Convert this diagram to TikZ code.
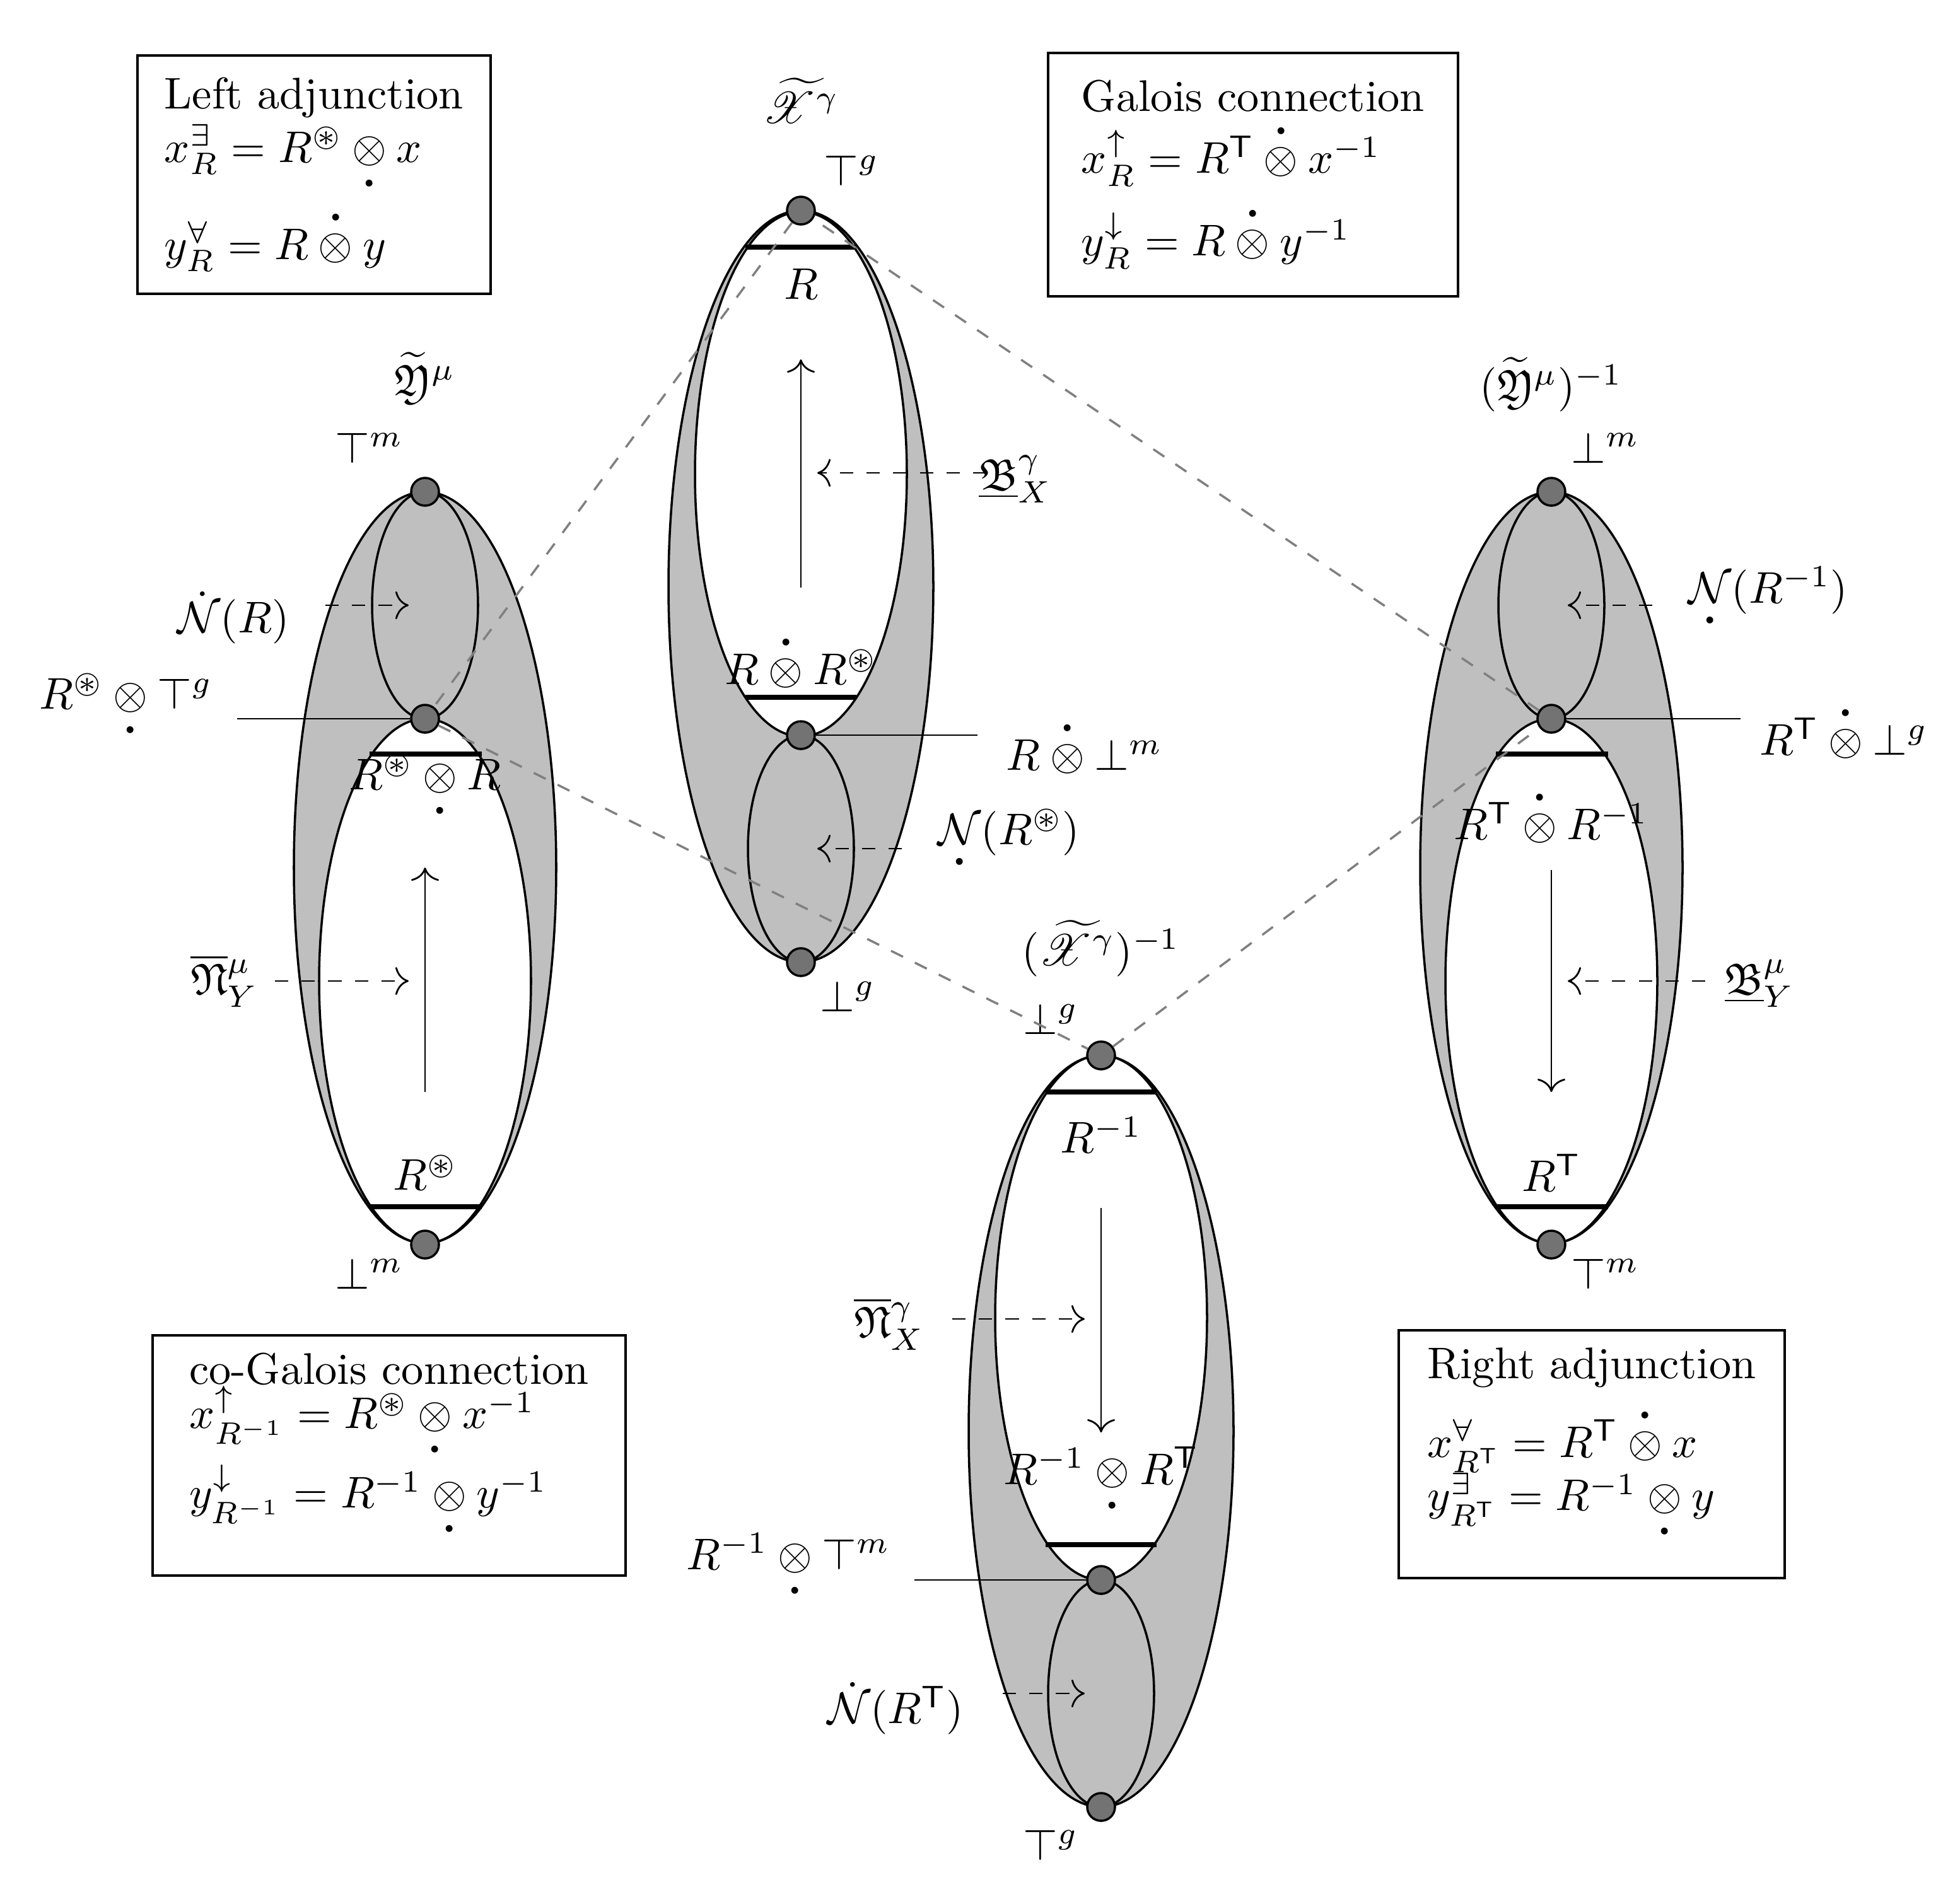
\documentclass[tikz,border=0pt]{standalone}
\usepackage{amsmath,amssymb,mathrsfs}
\usetikzlibrary{arrows.meta}
\newcommand{\otd}{\mathbin{\underset{\raisebox{3pt}[0pt][0pt]{$\boldsymbol\cdot$}}{\otimes}}}
\newcommand{\otu}{\mathbin{\overset{\raisebox{-2.5pt}{$\boldsymbol\cdot$}}{\otimes}}}
\newcommand{\Nd}{\underset{\raisebox{3pt}[0pt][0pt]{$\boldsymbol\cdot$}}{\mathcal N}}
\newcommand{\Nu}{\dot{\mathcal N}}
\newcommand{\Tt}{{\mathsf T}}
\begin{document}
\begin{tikzpicture}[x=0.01cm,y=-0.01cm,
  every node/.style={font=\fontsize{10}{12}\selectfont},
  grayfill/.style={fill=black!25,draw=black,line width=0.5pt},
  whitefill/.style={fill=white,draw=black,line width=0.5pt},
  pt/.style={circle,fill=black!55,draw=black,line width=0.5pt,inner sep=0pt,minimum size=0.22cm},
  bar/.style={line width=1.1pt},
  darr/.style={dashed,-{To[length=3pt]}},
  sarr/.style={-{To[length=3pt]}},
  diag/.style={dashed,black!50,line width=0.5pt},
  lbox/.style={draw,line width=0.5pt,align=left,inner sep=4pt}]
\useasboundingbox (0,0) rectangle (1554,1496);
% ---------- Left: Y^mu
\draw[grayfill] (337,688) ellipse [x radius=104,y radius=298];
\draw[whitefill] (337,778) ellipse [x radius=84,y radius=208];
\draw[grayfill] (337,480) ellipse [x radius=42,y radius=90];
\draw[bar] (293,598) -- (382,598);
\draw[bar] (293,957) -- (382,957);
\node[pt] (L1) at (337,390) {};
\node[pt] (L2) at (337,570) {};
\node[pt] (L3) at (337,987) {};
\node (Lt) at (337,300) {$\widetilde{\mathfrak Y}^\mu$};
\node (Ltop) at (293,355) {$\top^m$};
\node (Lbot) at (293,1010) {$\bot^m$};
\node (Lmid) at (100,568) {$R^{\circledast}\otd\top^g$};
\coordinate (Lmidc) at (188,570);
\draw (Lmidc) -- (L2);
\node (LN) at (185,490) {$\Nu(R)$};
\coordinate (LNa) at (258,480); \coordinate (LNb) at (324,480);
\draw[darr] (LNa) -- (LNb);
\node (LB) at (178,778) {$\overline{\mathfrak N}{}^\mu_Y$};
\coordinate (LBa) at (218,778); \coordinate (LBb) at (324,778);
\draw[darr] (LBa) -- (LBb);
\node (Lr1) at (337,632) {$R^{\circledast}\otd R$};
\node (Lr2) at (337,930) {$R^{\circledast}$};
\coordinate (La) at (337,866); \coordinate (Lb) at (337,688);
\draw[sarr] (La) -- (Lb);
% ---------- Center: X^gamma
\draw[grayfill] (635,465) ellipse [x radius=105,y radius=298];
\draw[whitefill] (635,376) ellipse [x radius=84,y radius=208];
\draw[grayfill] (635,673) ellipse [x radius=42,y radius=90];
\draw[bar] (591,196) -- (679,196);
\draw[bar] (591,553) -- (679,553);
\node[pt] (C1) at (635,167) {};
\node[pt] (C2) at (635,583) {};
\node[pt] (C3) at (635,763) {};
\node (Ct) at (635,80) {$\widetilde{\mathscr X}^\gamma$};
\node (Ctop) at (675,135) {$\top^g$};
\node (Cbot) at (672,790) {$\bot^g$};
\node (Cr1) at (635,225) {$R$};
\node (Cr2) at (635,522) {$R\otu R^{\circledast}$};
\coordinate (Ca) at (635,466); \coordinate (Cb) at (635,285);
\draw[sarr] (Ca) -- (Cb);
\node (CB) at (805,380) {$\underline{\mathfrak B}{}^\gamma_X$};
\coordinate (CBa) at (782,375); \coordinate (CBb) at (648,375);
\draw[darr] (CBa) -- (CBb);
\node (Cmid) at (860,590) {$R\otu\bot^m$};
\coordinate (Cmidc) at (775,583);
\draw (C2) -- (Cmidc);
\node (CN) at (800,674) {$\Nd(R^{\circledast})$};
\coordinate (CNa) at (715,673); \coordinate (CNb) at (648,673);
\draw[darr] (CNa) -- (CNb);
% ---------- Right: (Y^mu)^-1
\draw[grayfill] (1230,688) ellipse [x radius=104,y radius=298];
\draw[whitefill] (1230,778) ellipse [x radius=84,y radius=208];
\draw[grayfill] (1230,480) ellipse [x radius=42,y radius=90];
\draw[bar] (1186,598) -- (1275,598);
\draw[bar] (1186,957) -- (1275,957);
\node[pt] (R1) at (1230,390) {};
\node[pt] (R2) at (1230,570) {};
\node[pt] (R3) at (1230,987) {};
\node (Rt) at (1230,305) {$(\widetilde{\mathfrak Y}^\mu)^{-1}$};
\node (Rtop) at (1273,355) {$\bot^m$};
\node (Rbot) at (1273,1010) {$\top^m$};
\node (RN) at (1402,482) {$\Nd(R^{-1})$};
\coordinate (RNa) at (1310,480); \coordinate (RNb) at (1243,480);
\draw[darr] (RNa) -- (RNb);
\node (Rmid) at (1462,578) {$R^\Tt\otu\bot^g$};
\coordinate (Rmidc) at (1380,570);
\draw (R2) -- (Rmidc);
\node (Rr1) at (1230,645) {$R^\Tt\otu R^{-1}$};
\node (Rr2) at (1230,930) {$R^\Tt$};
\coordinate (Ra) at (1230,690); \coordinate (Rb) at (1230,866);
\draw[sarr] (Ra) -- (Rb);
\node (RB) at (1395,780) {$\underline{\mathfrak B}{}^\mu_Y$};
\coordinate (RBa) at (1352,778); \coordinate (RBb) at (1243,778);
\draw[darr] (RBa) -- (RBb);
% ---------- Bottom: (X^gamma)^-1
\draw[grayfill] (873,1135) ellipse [x radius=105,y radius=298];
\draw[whitefill] (873,1045) ellipse [x radius=84,y radius=208];
\draw[grayfill] (873,1343) ellipse [x radius=42,y radius=90];
\draw[bar] (829,866) -- (917,866);
\draw[bar] (829,1225) -- (917,1225);
\node[pt] (B1) at (873,837) {};
\node[pt] (B2) at (873,1253) {};
\node[pt] (B3) at (873,1433) {};
\node (Bt) at (873,752) {$(\widetilde{\mathscr X}^\gamma)^{-1}$};
\node (Btop) at (833,808) {$\bot^g$};
\node (Bbot) at (833,1463) {$\top^g$};
\node (Br1) at (873,900) {$R^{-1}$};
\node (Br2) at (873,1182) {$R^{-1}\otd R^\Tt$};
\coordinate (Ba) at (873,958); \coordinate (Bb) at (873,1136);
\draw[sarr] (Ba) -- (Bb);
\node (BB) at (705,1050) {$\overline{\mathfrak N}{}^\gamma_X$};
\coordinate (BBa) at (755,1046); \coordinate (BBb) at (860,1046);
\draw[darr] (BBa) -- (BBb);
\node (Bmid) at (625,1250) {$R^{-1}\otd\top^m$};
\coordinate (Bmidc) at (725,1253);
\draw (Bmidc) -- (B2);
\node (BN) at (710,1355) {$\Nu(R^\Tt)$};
\coordinate (BNa) at (795,1343); \coordinate (BNb) at (860,1343);
\draw[darr] (BNa) -- (BNb);
% ---------- diamond
\draw[diag] (C1) -- (L2) -- (B1) -- (R2) -- (C1);
% ---------- boxes
\node[lbox,anchor=north west,minimum width=2.8cm,minimum height=1.89cm] (box1) at (108,43)
 {Left adjunction\\[0pt] $x_R^{\exists}=R^{\circledast}\otd x$\\[-3pt] $y_R^{\forall}=R\otu y$};
\node[lbox,anchor=north west,minimum width=3.25cm,minimum height=1.93cm] (box2) at (830,41)
 {Galois connection\\[0pt] $x_R^{\uparrow}=R^\Tt\otu x^{-1}$\\[2pt] $y_R^{\downarrow}=R\otu y^{-1}$};
\node[lbox,anchor=north west,minimum width=3.75cm,minimum height=1.85cm] (box3) at (120,1058)
 {co-Galois connection\\[-2pt] $x_{R^{-1}}^{\uparrow}=R^{\circledast}\otd x^{-1}$\\[-4pt] $y_{R^{-1}}^{\downarrow}=R^{-1}\otd y^{-1}$};
\node[lbox,anchor=north west,minimum width=3.06cm,minimum height=1.93cm] (box4) at (1108,1054)
 {Right adjunction\\[2pt] $x_{R^\Tt}^{\forall}=R^\Tt\otu x$\\[0pt] $y_{R^\Tt}^{\exists}=R^{-1}\otd y$};
\end{tikzpicture}
\end{document}
